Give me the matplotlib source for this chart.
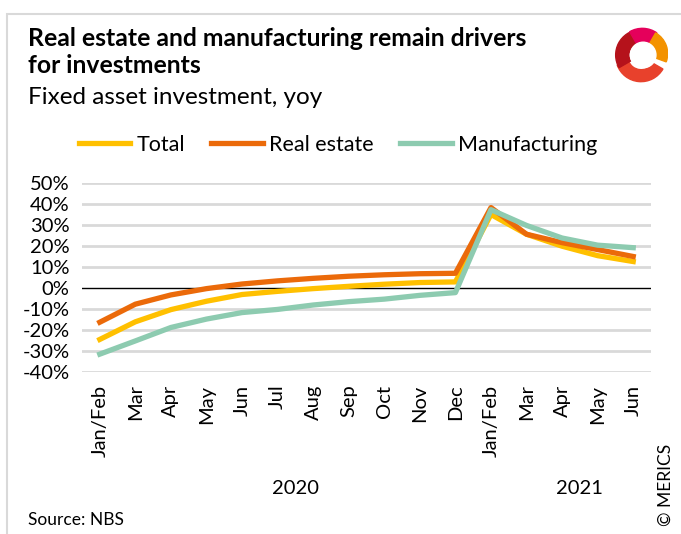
import matplotlib
matplotlib.use("Agg")
import matplotlib.pyplot as plt
from matplotlib.patches import Rectangle, Wedge, Circle
from matplotlib.lines import Line2D
import numpy as np

plt.rcParams['font.family'] = ['Lato', 'DejaVu Sans']

months = ["Jan/Feb", "Mar", "Apr", "May", "Jun", "Jul", "Aug", "Sep", "Oct", "Nov", "Dec",
          "Jan/Feb", "Mar", "Apr", "May", "Jun"]
total = [-24.5, -16.1, -10.3, -6.3, -3.1, -1.6, -0.3, 0.8, 1.8, 2.6, 2.9,
         35.0, 25.6, 19.9, 15.4, 12.6]
real_estate = [-16.3, -7.7, -3.3, -0.3, 1.9, 3.4, 4.6, 5.6, 6.3, 6.8, 7.0,
               38.3, 25.6, 21.6, 18.3, 15.0]
manufacturing = [-31.5, -25.2, -18.8, -14.8, -11.7, -10.2, -8.1, -6.5, -5.3, -3.5, -2.2,
                 37.3, 29.8, 23.8, 20.4, 19.2]
yticks = [-40, -30, -20, -10, 0, 10, 20, 30, 40, 50]
years = ["2020", "2021"]
year_pos = [5.5, 13.5]

c_total = "#FFC000"
c_real = "#EB6A0A"
c_manu = "#8DCBB0"

fig = plt.figure(figsize=(6.81, 5.34), dpi=100)

# light frame around the whole graphic
fig.patches.append(Rectangle((7 / 681, -0.1), 1.2, 1 - 14 / 534 + 0.1, transform=fig.transFigure,
                             fill=False, edgecolor="#D9D9D9", linewidth=1.5))

ax = fig.add_axes([82 / 681, 1 - 372 / 534, (651 - 82) / 681, (372 - 183) / 534])
x = np.arange(len(months))

for v in yticks:
    if v != 0:
        ax.axhline(v, color="#D9D9D9", linewidth=2, zorder=0)
ax.axhline(0, color="black", linewidth=1, zorder=1)

ax.plot(x, total, color=c_total, linewidth=3.8, zorder=2)
ax.plot(x, real_estate, color=c_real, linewidth=3.8, zorder=3)
ax.plot(x, manufacturing, color=c_manu, linewidth=3.8, zorder=4)

ax.set_xlim(-0.5, len(months) - 0.5)
ax.set_ylim(-40, 50)
ax.set_yticks(yticks)
ax.set_yticklabels([f"{v}%" for v in yticks], fontsize=14.5)
ax.set_xticks(x)
ax.set_xticklabels(months, rotation=90, fontsize=14.5)
ax.tick_params(length=0, pad=9)
for s in ax.spines.values():
    s.set_visible(False)

# year labels below the month labels
for label, pos in zip(years, year_pos):
    ax.text(pos, -0.57, label, transform=ax.get_xaxis_transform(), fontsize=14.5,
            ha="center", va="top")

handles = [Line2D([], [], color=c_total, linewidth=3.8),
           Line2D([], [], color=c_real, linewidth=3.8),
           Line2D([], [], color=c_manu, linewidth=3.8)]
fig.legend(handles, ["Total", "Real estate", "Manufacturing"], loc="center",
           bbox_to_anchor=(338 / 681, 1 - 145 / 534), ncol=3, frameon=False,
           fontsize=15.5, handlelength=2.4, handletextpad=0.3, columnspacing=1.2)

fig.text(28 / 681, 1 - 27 / 534, "Real estate and manufacturing remain drivers\nfor investments",
         fontsize=17.8, fontweight="bold", va="top", ha="left", linespacing=1.2)
fig.text(28 / 681, 1 - 87 / 534, "Fixed asset investment, yoy", fontsize=17.5, va="top", ha="left")
fig.text(28 / 681, 1 - 520 / 534, "Source: NBS", fontsize=12.5, va="center", ha="left")
fig.text(666 / 681, 1 - 485 / 534, "© MERICS", fontsize=12.5, rotation=90, va="center", ha="center")

# logo
lax = fig.add_axes([614 / 681, 1 - 83 / 534, 54 / 681, 56 / 534])
lax.set_xlim(-1, 1)
lax.set_ylim(-1.05, 1.05)
lax.set_aspect("equal")
lax.axis("off")
lax.add_patch(Wedge((0, -0.05), 0.95, 200, 330, width=0.45, color="#E8412C"))
lax.add_patch(Wedge((0, 0), 0.95, 95, 210, width=0.5, color="#B5121B"))
lax.add_patch(Wedge((0.05, 0.05), 0.95, 55, 120, width=0.5, color="#E5005B"))
lax.add_patch(Wedge((0.1, 0.05), 0.9, -20, 60, width=0.45, color="#F39200"))
lax.add_patch(Circle((0.08, 0.0), 0.48, color="white"))

fig.savefig("out.png", dpi=100)
